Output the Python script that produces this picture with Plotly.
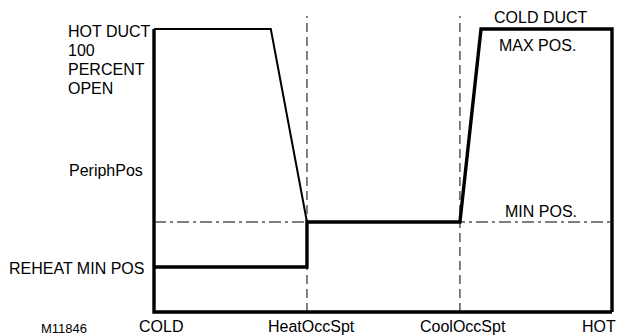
import plotly.graph_objects as go

# Zone temperature axis (0 = COLD, 100 = HOT) and setpoints
temp_labels = ["COLD", "HeatOccSpt", "CoolOccSpt", "HOT"]
temp_pos = [0, 33.4, 66.8, 100]
heat_spt = 33.4
cool_spt = 66.8

# Damper position levels (percent open)
full_open = 100
periph_pos = 50
min_pos = 31.8
reheat_min_pos = 15.9

# Hot duct damper: fully open until ramp, then down to min at HeatOccSpt
hot_x = [0, 25.5, heat_spt]
hot_y = [full_open, full_open, min_pos]

# Cold duct damper: reheat min, step to min, ramp to max past CoolOccSpt
cold_x = [0, heat_spt, heat_spt, cool_spt, 71.4, 100, 100]
cold_y = [reheat_min_pos, reheat_min_pos, min_pos, min_pos, full_open, full_open, 0]

# Frame (left and bottom axes)
frame_x = [0, 0, 100]
frame_y = [full_open, 0, 0]

hot_duct_lines = ["HOT DUCT", "100", "PERCENT", "OPEN"]

FONT = "Liberation Sans, Arial, sans-serif"
PX_X = 4.58   # pixels per x unit
PX_Y = 2.83   # pixels per y unit

fig = go.Figure()

# Setpoint reference lines
for sx in [heat_spt, cool_spt]:
    fig.add_trace(go.Scatter(x=[sx, sx], y=[0, 104.6], mode="lines",
                             line=dict(color="black", width=1, dash="9px,5px"),
                             hoverinfo="skip"))

# Minimum position reference line
fig.add_trace(go.Scatter(x=[0, 100], y=[min_pos, min_pos], mode="lines",
                         line=dict(color="black", width=1.2, dash="12px,4px,3px,4px"),
                         hoverinfo="skip"))

fig.add_trace(go.Scatter(x=frame_x, y=frame_y, mode="lines",
                         line=dict(color="black", width=3.4), hoverinfo="skip"))
fig.add_trace(go.Scatter(x=hot_x, y=hot_y, mode="lines",
                         line=dict(color="black", width=2), hoverinfo="skip"))
fig.add_trace(go.Scatter(x=cold_x, y=cold_y, mode="lines",
                         line=dict(color="black", width=3.4), hoverinfo="skip"))

ann = []
f16 = dict(family=FONT, size=16, color="black")

# Hot duct label block, left aligned
for i, line in enumerate(hot_duct_lines):
    ann.append(dict(x=0, y=full_open, text=line, xanchor="left", yanchor="middle",
                    xshift=-88, yshift=-2 - 19 * i, showarrow=False, font=f16))

ann.append(dict(x=0, y=periph_pos, text="PeriphPos", xanchor="right", yanchor="middle",
                xshift=-9, showarrow=False, font=f16))
ann.append(dict(x=0, y=reheat_min_pos, text="REHEAT MIN POS", xanchor="right",
                yanchor="middle", xshift=-8, yshift=-1, showarrow=False, font=f16))

# Cold duct labels
ann.append(dict(x=84.5, y=full_open, text="COLD DUCT", xanchor="center", yanchor="middle",
                yshift=12, showarrow=False, font=f16))
ann.append(dict(x=83.8, y=full_open, text="MAX POS.", xanchor="center", yanchor="middle",
                yshift=-16, showarrow=False, font=f16))
ann.append(dict(x=84.5, y=min_pos, text="MIN POS.", xanchor="center", yanchor="middle",
                yshift=11, showarrow=False, font=f16))

# Temperature axis labels
shifts = [7, 5, 3, -13]
for lab, xp, xs in zip(temp_labels, temp_pos, shifts):
    ann.append(dict(x=xp, y=0, text=lab, xanchor="center", yanchor="middle",
                    xshift=xs, yshift=-14, showarrow=False, font=f16))

ann.append(dict(x=0, y=0, text="M11846", xanchor="center", yanchor="middle",
                xshift=-90, yshift=-16, showarrow=False,
                font=dict(family=FONT, size=13, color="black")))

# Plot area padded by 10 px so the thick edge lines are not clipped
pad = 10
fig.update_layout(
    width=628, height=335,
    margin=dict(l=154 - pad, r=16 - pad, t=0, b=23 - pad),
    paper_bgcolor="white", plot_bgcolor="white",
    showlegend=False,
    annotations=ann,
    xaxis=dict(range=[-pad / PX_X, 100 + pad / PX_X], visible=False, fixedrange=True),
    yaxis=dict(range=[-pad / PX_Y, 110.25], visible=False, fixedrange=True),
)

fig.write_html("out.html")
